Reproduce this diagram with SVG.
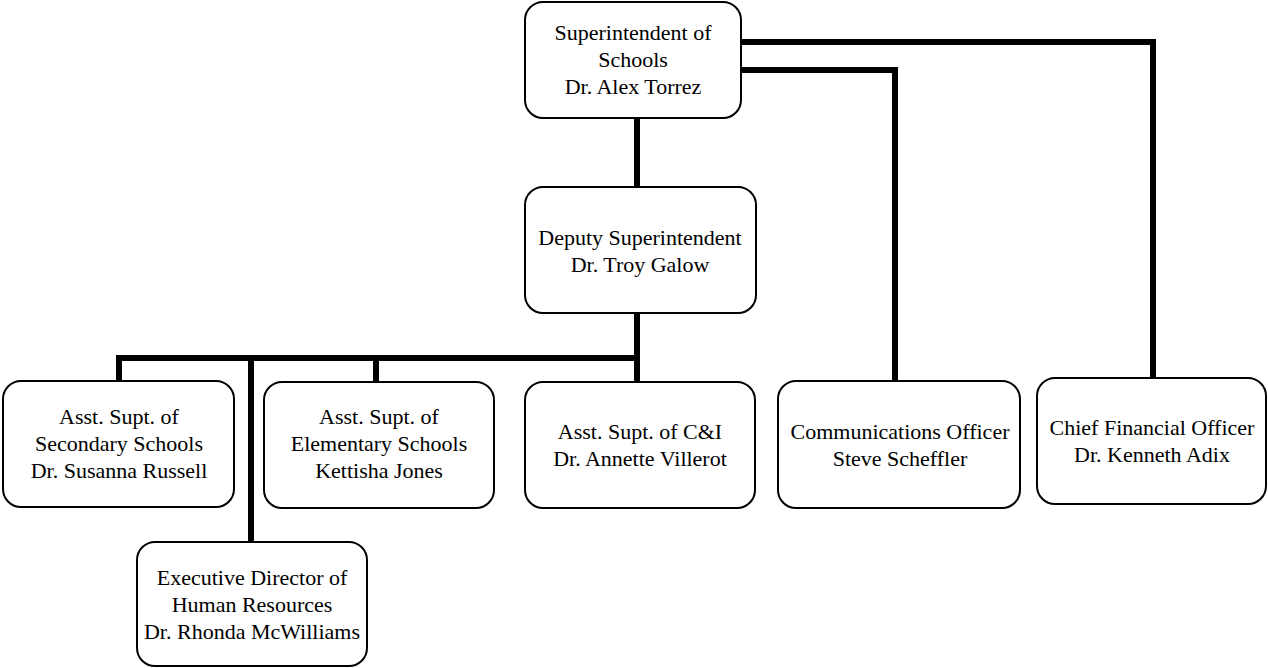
<svg xmlns="http://www.w3.org/2000/svg" width="1268" height="668" viewBox="0 0 1268 668">
<style>
.box{fill:#fff;stroke:#000;stroke-width:2}
text{font-family:'Liberation Serif','DejaVu Serif',serif;font-size:22px;fill:#000;text-anchor:middle}
.c{fill:none;stroke:#000;stroke-width:6}
</style>
<rect width="1268" height="668" fill="#fff"/>
<g id="connectors">
<path class="c" d="M637 118V187"/>
<path class="c" d="M741 42H1153V378"/>
<path class="c" d="M741 70H895V382"/>
<path class="c" d="M637 313V382"/>
<path class="c" d="M116 358H640"/>
<path class="c" d="M119 358V381"/>
<path class="c" d="M376 358V382"/>
<path class="c" d="M251 358V542"/>
</g>
<g id="superintendent">
<rect class="box" x="525" y="2" width="216" height="116" rx="18"/>
<text x="633" y="40">Superintendent of</text>
<text x="633" y="67">Schools</text>
<text x="633" y="94">Dr. Alex Torrez</text>
</g>
<g id="deputy">
<rect class="box" x="525" y="187" width="231" height="126" rx="18"/>
<text x="640" y="245">Deputy Superintendent</text>
<text x="640" y="272">Dr. Troy Galow</text>
</g>
<g id="secondary">
<rect class="box" x="3" y="381" width="231" height="126" rx="18"/>
<text x="119" y="424">Asst. Supt. of</text>
<text x="119" y="451">Secondary Schools</text>
<text x="119" y="478">Dr. Susanna Russell</text>
</g>
<g id="elementary">
<rect class="box" x="264" y="382" width="230" height="126" rx="18"/>
<text x="379" y="424">Asst. Supt. of</text>
<text x="379" y="451">Elementary Schools</text>
<text x="379" y="478">Kettisha Jones</text>
</g>
<g id="ci">
<rect class="box" x="525" y="382" width="230" height="126" rx="18"/>
<text x="640" y="439">Asst. Supt. of C&amp;I</text>
<text x="640" y="466">Dr. Annette Villerot</text>
</g>
<g id="communications">
<rect class="box" x="778" y="381" width="242" height="127" rx="18"/>
<text x="900" y="439">Communications Officer</text>
<text x="900" y="466">Steve Scheffler</text>
</g>
<g id="cfo">
<rect class="box" x="1037" y="378" width="229" height="126" rx="18"/>
<text x="1152" y="435">Chief Financial Officer</text>
<text x="1152" y="462">Dr. Kenneth Adix</text>
</g>
<g id="hr">
<rect class="box" x="137" y="542" width="230" height="124" rx="18"/>
<text x="252" y="585">Executive Director of</text>
<text x="252" y="612">Human Resources</text>
<text x="252" y="639">Dr. Rhonda McWilliams</text>
</g>
</svg>
